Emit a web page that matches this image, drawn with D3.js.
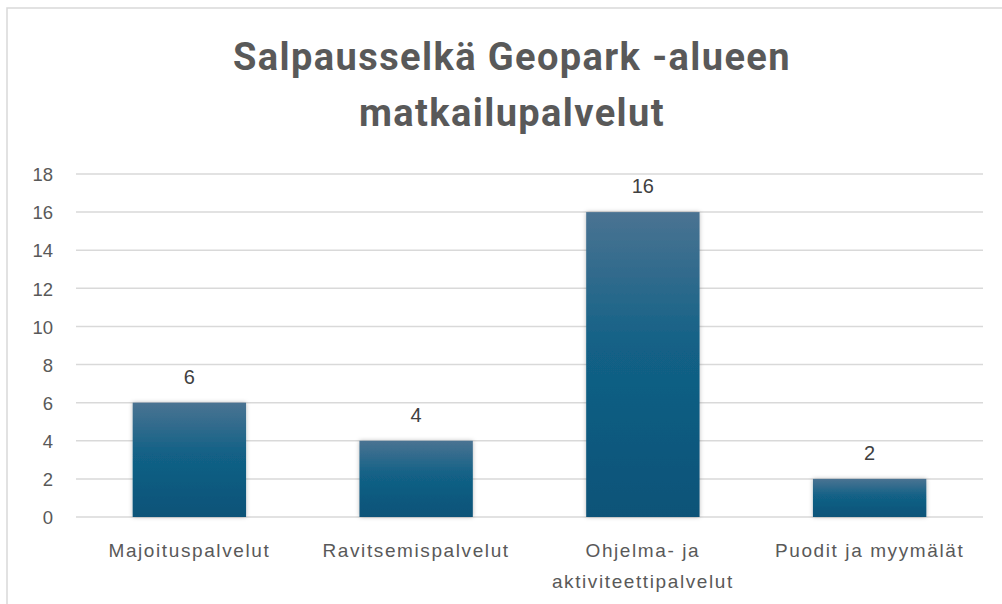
<!DOCTYPE html>
<html>
<head>
<meta charset="utf-8">
<script src="https://cdn.jsdelivr.net/npm/d3@7"></script>
<style>
  html, body { margin: 0; padding: 0; background: #fff; }
  svg { display: block; }
</style>
</head>
<body>
<svg id="chart" width="1002" height="604"></svg>
<script>
const TITLE_LINES = ["Salpausselkä Geopark -alueen", "matkailupalvelut"];
const CATEGORIES = ["Majoituspalvelut", "Ravitsemispalvelut", "Ohjelma- ja aktiviteettipalvelut", "Puodit ja myymälät"];
const CATEGORY_LINES = [["Majoituspalvelut"], ["Ravitsemispalvelut"], ["Ohjelma- ja", "aktiviteettipalvelut"], ["Puodit ja myymälät"]];
const VALUES = [6, 4, 16, 2];
const Y_TICKS = [0, 2, 4, 6, 8, 10, 12, 14, 16, 18];

const svg = d3.select("#chart");
const margin = { top: 174, right: 19, bottom: 87, left: 76 };
const width = 1002;
const height = 604;

// frame of the chart area (only top and left edges visible in the crop)
svg.append("rect")
  .attr("x", 7)
  .attr("y", 8)
  .attr("width", 1010)
  .attr("height", 610)
  .attr("fill", "none")
  .attr("stroke", "#d9d9d9")
  .attr("stroke-width", 1.5);

const defs = svg.append("defs");
const grad = defs.append("linearGradient")
  .attr("id", "bar-fill")
  .attr("x1", 0).attr("y1", 0).attr("x2", 0).attr("y2", 1);
grad.append("stop").attr("offset", "0%").attr("stop-color", "#4a7392");
grad.append("stop").attr("offset", "45%").attr("stop-color", "#126186");
grad.append("stop").attr("offset", "100%").attr("stop-color", "#0c5378");

const shadow = defs.append("filter")
  .attr("id", "bar-shadow")
  .attr("x", "-20%").attr("y", "-20%").attr("width", "140%").attr("height", "140%");
shadow.append("feDropShadow")
  .attr("dx", 0).attr("dy", 0)
  .attr("stdDeviation", 2.2)
  .attr("flood-color", "#000")
  .attr("flood-opacity", 0.28);

const x = d3.scaleBand()
  .domain(CATEGORIES)
  .range([margin.left, width - margin.right])
  .paddingInner(0.5)
  .paddingOuter(0.25);

const y = d3.scaleLinear()
  .domain([0, 18])
  .range([height - margin.bottom, margin.top]);

// title
svg.append("g")
  .selectAll("text")
  .data(TITLE_LINES)
  .join("text")
  .attr("x", 512)
  .attr("y", (d, i) => 70 + i * 56)
  .attr("text-anchor", "middle")
  .attr("font-family", "Roboto, 'Liberation Sans', sans-serif")
  .attr("font-weight", "bold")
  .attr("font-size", 38)
  .attr("letter-spacing", 1.4)
  .attr("fill", "#595959")
  .text((d) => d);

// gridlines
svg.append("g")
  .selectAll("line")
  .data(Y_TICKS)
  .join("line")
  .attr("x1", margin.left)
  .attr("x2", width - margin.right)
  .attr("y1", (d) => y(d))
  .attr("y2", (d) => y(d))
  .attr("stroke", "#d9d9d9")
  .attr("stroke-width", 1.5);

// y axis labels
const yAxis = d3.axisLeft(y).tickValues(Y_TICKS).tickSize(0).tickPadding(0);
svg.append("g")
  .attr("transform", `translate(${margin.left - 23},0)`)
  .call(yAxis)
  .call((g) => g.select(".domain").remove())
  .call((g) => g.selectAll("text")
    .attr("font-family", "'Liberation Sans', Arial, sans-serif")
    .attr("font-size", 18.5)
    .attr("fill", "#595959")
    .attr("dy", "0.36em"));

// bars
svg.append("g")
  .selectAll("rect")
  .data(VALUES)
  .join("rect")
  .attr("x", (d, i) => x(CATEGORIES[i]))
  .attr("y", (d) => y(d))
  .attr("width", x.bandwidth())
  .attr("height", (d) => y(0) - y(d))
  .attr("fill", "url(#bar-fill)")
  .attr("filter", "url(#bar-shadow)");

// value labels
svg.append("g")
  .selectAll("text")
  .data(VALUES)
  .join("text")
  .attr("x", (d, i) => x(CATEGORIES[i]) + x.bandwidth() / 2)
  .attr("y", (d) => y(d) - 19)
  .attr("text-anchor", "middle")
  .attr("font-family", "'Liberation Sans', Arial, sans-serif")
  .attr("font-size", 20)
  .attr("fill", "#404040")
  .text((d) => d);

// category labels
const catGroups = svg.append("g")
  .selectAll("text")
  .data(CATEGORIES)
  .join("text")
  .attr("x", (d) => x(d) + x.bandwidth() / 2)
  .attr("y", 557)
  .attr("text-anchor", "middle")
  .attr("font-family", "'Liberation Sans', Arial, sans-serif")
  .attr("font-size", 19)
  .attr("letter-spacing", 1.6)
  .attr("fill", "#595959");

catGroups.selectAll("tspan")
  .data((d, i) => CATEGORY_LINES[i])
  .join("tspan")
  .attr("x", function () { return this.parentNode.getAttribute("x"); })
  .attr("dy", (d, i) => (i === 0 ? 0 : 31))
  .text((d) => d);
</script>
</body>
</html>
